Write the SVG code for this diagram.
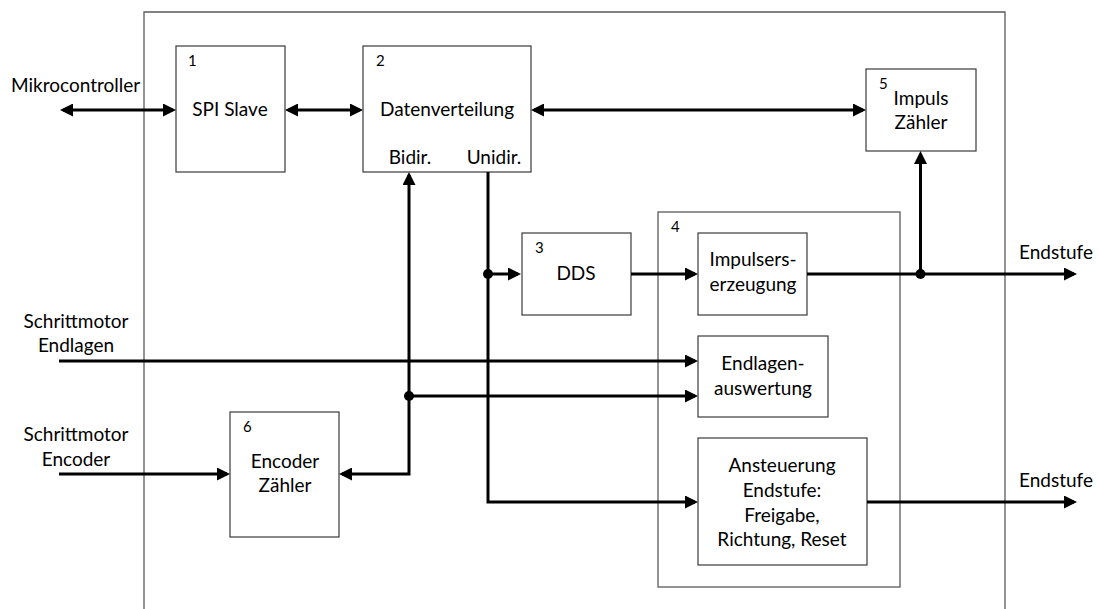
<svg xmlns="http://www.w3.org/2000/svg" width="1099" height="609" viewBox="0 0 1099 609">
  <defs>
    <style>
      .frame { fill: none; stroke: #5a5a5a; stroke-width: 1.3; }
      .box { fill: #ffffff; stroke: #3a3a3a; stroke-width: 1.2; }
      .wire { fill: none; stroke: #000000; stroke-width: 3; }
      .arr { marker-end: url(#head); }
      .arr2 { marker-start: url(#head); marker-end: url(#head); }
      .dot { fill: #000000; }
      text { font-family: Lato, "Liberation Sans", sans-serif; font-size: 19px; fill: #000000; }
      .num { font-size: 15px; }
      .mid { text-anchor: middle; }
    </style>
    <marker id="head" viewBox="0 0 13 13" refX="10" refY="6.5" markerWidth="13" markerHeight="13" markerUnits="userSpaceOnUse" orient="auto-start-reverse">
      <path d="M0,0 L13,6.5 L0,13 z" fill="#000000"/>
    </marker>
  </defs>

  <rect width="1099" height="609" fill="#ffffff"/>

  <!-- FPGA frame, open at the bottom edge -->
  <path class="frame" d="M144,609 V12 H1005 V609"/>

  <!-- external signal labels -->
  <g id="labels">
    <text x="11" y="92">Mikrocontroller</text>
    <text class="mid" x="76" y="328">Schrittmotor</text>
    <text class="mid" x="76" y="352">Endlagen</text>
    <text class="mid" x="76" y="441">Schrittmotor</text>
    <text class="mid" x="76" y="466">Encoder</text>
    <text class="mid" x="1056" y="259">Endstufe</text>
    <text class="mid" x="1056" y="487">Endstufe</text>
  </g>

  <!-- block 4: motor control group -->
  <g id="block4">
    <rect class="frame" x="658" y="212" width="242" height="375"/>
    <text class="num" x="671" y="232">4</text>
  </g>

  <g id="block1">
    <rect class="box" x="176" y="46" width="109" height="126"/>
    <text class="num" x="188" y="66">1</text>
    <text class="mid" x="230" y="116">SPI Slave</text>
  </g>

  <g id="block2">
    <rect class="box" x="363" y="46" width="168" height="126"/>
    <text class="num" x="376" y="66">2</text>
    <text class="mid" x="447" y="116">Datenverteilung</text>
    <text class="mid" x="410" y="164">Bidir.</text>
    <text class="mid" x="494" y="164">Unidir.</text>
  </g>

  <g id="block5">
    <rect class="box" x="866" y="69" width="110" height="82"/>
    <text class="num" x="879" y="89">5</text>
    <text class="mid" x="921" y="105">Impuls</text>
    <text class="mid" x="921" y="129">Zähler</text>
  </g>

  <g id="block3">
    <rect class="box" x="522" y="233" width="109" height="82"/>
    <text class="num" x="535" y="253">3</text>
    <text class="mid" x="576" y="280">DDS</text>
  </g>

  <g id="impulserzeugung">
    <rect class="box" x="698" y="233" width="109" height="82"/>
    <text class="mid" x="753" y="266">Impulsers-</text>
    <text class="mid" x="753" y="291">erzeugung</text>
  </g>

  <g id="endlagenauswertung">
    <rect class="box" x="698" y="336" width="130" height="81"/>
    <text class="mid" x="763" y="370">Endlagen-</text>
    <text class="mid" x="763" y="395">auswertung</text>
  </g>

  <g id="ansteuerung">
    <rect class="box" x="698" y="438" width="169" height="127"/>
    <text class="mid" x="782" y="472">Ansteuerung</text>
    <text class="mid" x="782" y="497">Endstufe:</text>
    <text class="mid" x="782" y="522">Freigabe,</text>
    <text class="mid" x="782" y="546">Richtung, Reset</text>
  </g>

  <g id="block6">
    <rect class="box" x="230" y="412" width="109" height="125"/>
    <text class="num" x="243" y="432">6</text>
    <text class="mid" x="285" y="468">Encoder</text>
    <text class="mid" x="285" y="492">Zähler</text>
  </g>

  <!-- connectors -->
  <g id="connectors">
    <path class="wire arr2" d="M63,110 H173"/>
    <path class="wire arr2" d="M288,110 H360"/>
    <path class="wire arr2" d="M534,110 H863"/>
    <path class="wire arr2" d="M342,474 H409 V175"/>
    <path class="wire arr" d="M409,396 H695"/>
    <path class="wire arr" d="M488,172 V502 H695"/>
    <path class="wire arr" d="M488,274 H518"/>
    <path class="wire arr" d="M631,274 H695"/>
    <path class="wire arr" d="M807,274 H1074"/>
    <path class="wire arr" d="M920.5,274 V154"/>
    <path class="wire arr" d="M59,361 H695"/>
    <path class="wire arr" d="M59,474 H227"/>
    <path class="wire arr" d="M867,502 H1074"/>
    <circle class="dot" cx="409" cy="396" r="5"/>
    <circle class="dot" cx="488" cy="274" r="5"/>
    <circle class="dot" cx="920.5" cy="274" r="5"/>
  </g>
</svg>
